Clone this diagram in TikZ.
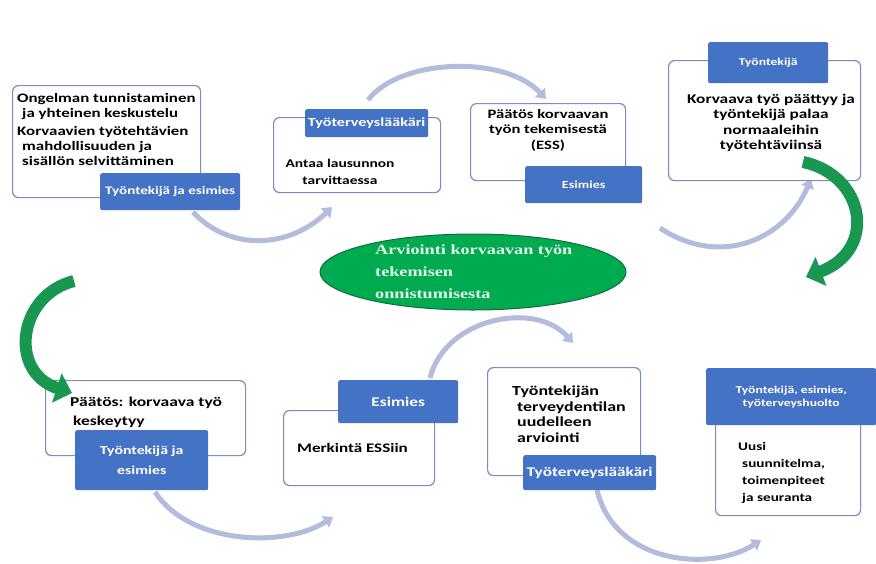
\documentclass[tikz,border=0pt]{standalone}
\usepackage{fontspec}
\usetikzlibrary{arrows.meta,shapes.geometric}
\newfontfamily\bodyf[FakeStretch=1.3]{Carlito Bold}
\newfontfamily\serf[FakeStretch=1.3]{Liberation Serif Bold}
\newcommand\bsz[2]{\bodyf\fontsize{#1}{#2}\selectfont}
\definecolor{labblue}{RGB}{68,114,196}
\definecolor{boxborder}{RGB}{125,140,185}
\definecolor{arrlight}{RGB}{178,188,221}
\definecolor{ellgreen}{RGB}{0,170,80}
\definecolor{ellborder}{RGB}{20,110,60}
\definecolor{arrgreen}{RGB}{25,150,80}
\definecolor{elltext}{RGB}{228,246,228}
\begin{document}
\begin{tikzpicture}[x=1pt,y=-1pt,
  boxnode/.style={draw=boxborder,line width=1.2pt,rounded corners=6pt,fill=white,inner sep=0pt,anchor=north west},
  labnode/.style={fill=labblue,rounded corners=2pt,text=white,align=center,anchor=north west,inner sep=1pt,
    font=\bsz{11pt}{14pt}},
  txtnode/.style={inner sep=0pt,font=\bsz{12.5pt}{15.5pt}},
  lightarrow/.style={draw=arrlight,line width=5pt,-{Triangle[length=9pt,width=13pt]}},
  greenarrow/.style={draw=arrgreen,line width=12pt,-{Triangle[length=16pt,width=30pt]}}]
\useasboundingbox (0,0) rectangle (876,563);
\fill[white] (0,0) rectangle (876,563);

% light arrows (behind boxes)
\coordinate (a1s) at (193,212); \coordinate (a1e) at (332,207);
\coordinate (a2s) at (368,100); \coordinate (a2e) at (546,99);
\coordinate (a3s) at (660,228); \coordinate (a3e) at (811,179);
\coordinate (a5s) at (155,492); \coordinate (a5e) at (333,517);
\coordinate (a6s) at (430,378); \coordinate (a6e) at (573,343);
\coordinate (a7s) at (597,490); \coordinate (a7e) at (761,540);
\draw[lightarrow] (a1s) .. controls (230,252) and (290,248) .. (a1e);
\draw[lightarrow] (a2s) .. controls (400,58) and (505,55) .. (a2e);
\draw[lightarrow] (a3s) .. controls (720,268) and (785,240) .. (a3e);
\draw[lightarrow] (a5s) .. controls (190,545) and (285,548) .. (a5e);
\draw[lightarrow] (a6s) .. controls (445,318) and (535,300) .. (a6e);
\draw[lightarrow] (a7s) .. controls (615,565) and (712,572) .. (a7e);

% boxes
\node[boxnode,minimum width=188pt,minimum height=112pt] (b1) at (12,85) {};
\node[labnode,minimum width=140pt,minimum height=37pt,font=\bsz{11.6pt}{14pt}] (l1) at (100,173) {Työntekijä ja esimies};
\node[txtnode,anchor=north west,align=left,font=\bsz{13pt}{15pt}] (t1) at (17,93) {Ongelman tunnistaminen\\\hspace*{5pt}ja yhteinen keskustelu\\[3pt]Korvaavien työtehtävien\\\hspace*{5pt}mahdollisuuden ja\\\hspace*{5pt}sisällön selvittäminen};

\node[boxnode,minimum width=167pt,minimum height=75pt] (b2) at (273,117) {};
\node[labnode,minimum width=123pt,minimum height=28pt,font=\bsz{12.4pt}{14pt}] (l2) at (305,109) {Työterveyslääkäri};
\node[txtnode,align=center,font=\bsz{11.9pt}{17pt}] (t2) at (340,172) {Antaa lausunnon\\tarvittaessa};

\node[boxnode,minimum width=155pt,minimum height=77pt] (b3) at (470,103) {};
\node[labnode,minimum width=117pt,minimum height=37pt,font=\bsz{10.8pt}{14pt}] (l3) at (525,166) {Esimies};
\node[txtnode,align=center,font=\bsz{12.8pt}{15.5pt}] (t3) at (548,130) {Päätös korvaavan\\työn tekemisestä\\(ESS)};

\node[boxnode,minimum width=192pt,minimum height=120pt] (b4) at (668,60) {};
\node[labnode,minimum width=120pt,minimum height=41pt,font=\bsz{10.5pt}{14pt}] (l4) at (708,42) {Työntekijä};
\node[txtnode,align=center,font=\bsz{13.3pt}{15.5pt}] (t4) at (771,123) {Korvaava työ päättyy ja\\työntekijä palaa\\normaaleihin\\työtehtäviinsä};

\node[boxnode,minimum width=200pt,minimum height=75pt] (b5) at (45,380) {};
\node[labnode,minimum width=133pt,minimum height=60pt,font=\bsz{12.2pt}{20pt}] (l5) at (75,430) {Työntekijä ja\\esimies};
\node[txtnode,anchor=north west,align=left,font=\bsz{13.5pt}{19pt}] (t5) at (70,397) {Päätös: korvaava työ\\\hspace*{3pt}keskeytyy};

\node[boxnode,minimum width=151pt,minimum height=75pt] (b6) at (283,410) {};
\node[labnode,minimum width=120pt,minimum height=43pt,font=\bsz{13.3pt}{14pt}] (l6) at (338,380) {Esimies};
\node[txtnode,anchor=west,font=\bsz{13.1pt}{15pt}] (t6) at (297,448) {Merkintä ESSiin};

\node[boxnode,minimum width=153pt,minimum height=108pt] (b7) at (487,367) {};
\node[labnode,minimum width=133pt,minimum height=35pt,font=\bsz{13.3pt}{14pt}] (l7) at (523,455) {Työterveyslääkäri};
\node[txtnode,anchor=north west,align=left,font=\bsz{13.8pt}{15.5pt}] (t7) at (512,386) {Työntekijän\\\hspace*{5pt}terveydentilan\\\hspace*{5pt}uudelleen\\\hspace*{5pt}arviointi};

\node[boxnode,minimum width=145pt,minimum height=105pt] (b8) at (715,410) {};
\node[labnode,minimum width=170pt,minimum height=57pt,font=\bsz{10.5pt}{13pt}] (l8) at (706,368) {Työntekijä, esimies,\\työterveyshuolto};
\node[txtnode,anchor=north west,align=left,font=\bsz{11.7pt}{17pt}] (t8) at (738,442) {Uusi\\\hspace*{4pt}suunnitelma,\\\hspace*{4pt}toimenpiteet\\\hspace*{4pt}ja seuranta};

% central ellipse
\node[ellipse,fill=ellgreen,draw=ellborder,line width=1pt,minimum width=306pt,minimum height=76pt] (e) at (473,272) {};
\node[anchor=north west,inner sep=0pt,align=left,text=elltext,font=\serf\fontsize{14pt}{22pt}\selectfont] (et) at (375,245) {Arviointi korvaavan työn\\tekemisen\\onnistumisesta};

% green arrows
\coordinate (g1s) at (803,162); \coordinate (g1e) at (806,277);
\coordinate (g2s) at (74,281); \coordinate (g2e) at (72,393);
\draw[greenarrow] (g1s) .. controls (865,175) and (878,250) .. (g1e);
\draw[greenarrow] (g2s) .. controls (18,295) and (8,372) .. (g2e);
\end{tikzpicture}
\end{document}
